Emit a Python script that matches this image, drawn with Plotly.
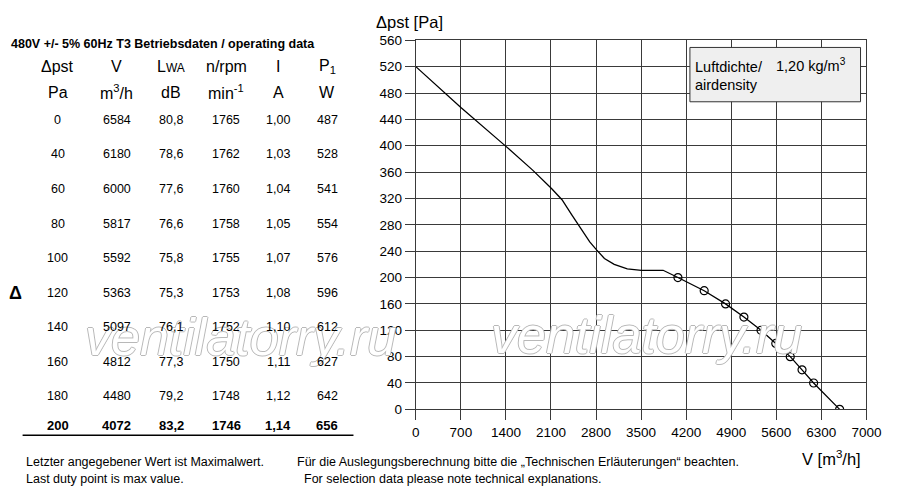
import plotly.graph_objects as go

# ---------------- data ----------------
dp_pa = [0, 40, 60, 80, 100, 120, 140, 160, 180, 200]
vol_m3h = [6584, 6180, 6000, 5817, 5592, 5363, 5097, 4812, 4480, 4072]
lwa_db = [80.8, 78.6, 77.6, 76.6, 75.8, 75.3, 76.1, 77.3, 79.2, 83.2]
rpm = [1765, 1762, 1760, 1758, 1755, 1753, 1752, 1750, 1748, 1746]
cur_a = [1.00, 1.03, 1.04, 1.05, 1.07, 1.08, 1.10, 1.11, 1.12, 1.14]
pow_w = [487, 528, 541, 554, 576, 596, 612, 627, 642, 656]

# characteristic curve beyond the last duty point
curve_v = [0, 700, 1400, 1815, 2108, 2271, 2423, 2575, 2702, 2808, 2930, 3082, 3285, 3503, 3842, 4072]
curve_p = [520, 458, 399, 363, 335, 318, 295, 273, 254, 242, 229, 220, 213, 211, 211, 200]

x_ticks = [0, 700, 1400, 2100, 2800, 3500, 4200, 4900, 5600, 6300, 7000]
y_ticks = list(range(0, 561, 40))

FONT = "Liberation Sans, Arial, Helvetica, sans-serif"
W, H = 900, 500


def px(x):
    return x / W


def py(y):
    return 1 - y / H


fig = go.Figure()

fig.add_trace(go.Scatter(
    x=curve_v, y=curve_p, mode="lines",
    line=dict(color="black", width=1.3),
    hoverinfo="skip", showlegend=False))

fig.add_trace(go.Scatter(
    x=vol_m3h, y=dp_pa, mode="lines+markers",
    line=dict(color="black", width=1.3),
    marker=dict(symbol="circle-open", size=8, color="black", line=dict(width=1.2)),
    hoverinfo="skip", showlegend=False))

grid_col = "#3a3a3a"
fig.update_layout(
    width=W, height=H,
    margin=dict(l=0, r=0, t=0, b=0, pad=0),
    paper_bgcolor="white", plot_bgcolor="white",
    font=dict(family=FONT, color="black"),
    hovermode=False,
    xaxis=dict(
        domain=[px(420.7), px(881)], range=[0, 7000],
        tickmode="array", tickvals=x_ticks, ticktext=[str(t) for t in x_ticks],
        showgrid=True, gridcolor=grid_col, gridwidth=1,
        showline=True, linecolor=grid_col, linewidth=1, mirror=True,
        zeroline=True, zerolinecolor="black", zerolinewidth=2.5,
        ticks="outside", ticklen=10, tickcolor=grid_col, tickwidth=1,
        tickfont=dict(size=13.5, family=FONT, color="black"),
    ),
    yaxis=dict(
        domain=[py(414.8), py(34.3)], range=[0, 560],
        tickmode="array", tickvals=y_ticks, ticktext=[str(t) for t in y_ticks],
        showgrid=True, gridcolor=grid_col, gridwidth=1,
        showline=True, linecolor=grid_col, linewidth=1, mirror=True,
        zeroline=True, zerolinecolor="black", zerolinewidth=2.5,
        ticks="outside", ticklen=10, tickcolor=grid_col, tickwidth=1,
        tickfont=dict(size=13.5, family=FONT, color="black"),
    ),
)

ann = []


def text(x, y, s, size=12.5, xanchor="center", yanchor="middle", weight=None, color="black", **kw):
    f = dict(size=size, family=FONT, color=color)
    if weight:
        f["weight"] = weight
    ann.append(dict(x=px(x), y=py(y), xref="paper", yref="paper", text=s,
                    showarrow=False, xanchor=xanchor, yanchor=yanchor, font=f, **kw))


# watermark
for cx, cy in [(242, 340), (656, 338)]:
    ann.append(dict(x=px(cx), y=py(cy), xref="paper", yref="paper", text="ventilatorry.ru",
                    showarrow=False, xanchor="center", yanchor="middle",
                    font=dict(size=52, family=FONT, color="white", style="italic",
                              shadow="1px 0 0 #b8b8b8, -1px 0 0 #b8b8b8, 0 1px 0 #b8b8b8, 0 -1px 0 #b8b8b8")))

# axis titles
text(378, 15, "Δpst [Pa]", size=16.5, xanchor="left")
text(878, 465, "V [m<sup>3</sup>/h]", size=16.5, xanchor="right")

# legend box
fig.add_shape(type="rect", xref="paper", yref="paper",
              x0=px(700.7), x1=px(875), y0=py(97.7), y1=py(41.7),
              fillcolor="#efefef", line=dict(color="#333333", width=1), layer="above")
text(704, 62, "Luftdichte/", size=14.5, xanchor="left")
text(787, 60, "1,20 kg/m<sup>3</sup>", size=14.5, xanchor="left")
text(704, 80, "airdensity", size=14.5, xanchor="left")

# table title
text(5, 38, "480V +/- 5% 60Hz T3 Betriebsdaten / operating data", size=12.5, xanchor="left", weight="bold")

col_x = [55, 115, 171, 227, 280, 330]
hdr1 = ["Δpst", "V", "L<span style='font-size:12px'>WA</span>", "n/rpm", "I", "P<sub>1</sub>"]
hdr2 = ["Pa", "m<sup>3</sup>/h", "dB", "min<sup>-1</sup>", "A", "W"]
for cx, h1, h2 in zip(col_x, hdr1, hdr2):
    text(cx, 61, h1, size=16)
    text(cx, 88, h2, size=16)

row_y = [116, 152, 188, 224, 259, 295, 330, 366, 401, 431]
n = len(dp_pa)
for i in range(n):
    vals = [str(dp_pa[i]), str(vol_m3h[i]), f"{lwa_db[i]:.1f}".replace(".", ","),
            str(rpm[i]), f"{cur_a[i]:.2f}".replace(".", ","), str(pow_w[i])]
    bold = "bold" if i == n - 1 else None
    for cx, v in zip(col_x, vals):
        text(cx, row_y[i], v, size=12.5 if not bold else 13, weight=bold)

text(12, 295, "Δ", size=18, weight="bold")

fig.add_shape(type="line", xref="paper", yref="paper",
              x0=px(19), x1=px(357), y0=py(441.5), y1=py(441.5),
              line=dict(color="black", width=1.5))

# footer
text(20, 469, "Letzter angegebener Wert ist Maximalwert.", size=12.5, xanchor="left")
text(20, 487, "Last duty point is max value.", size=12.5, xanchor="left")
text(297, 469, "Für die Auslegungsberechnung bitte die „Technischen Erläuterungen“ beachten.", size=12.5, xanchor="left")
text(304, 487, "For selection data please note technical explanations.", size=12.5, xanchor="left")

fig.update_layout(annotations=ann)
fig.write_html(
    "out.html",
    config={"displayModeBar": False, "staticPlot": True},
    post_script="document.documentElement.style.margin='0';document.body.style.margin='0';"
                "document.body.style.overflow='hidden';",
)
